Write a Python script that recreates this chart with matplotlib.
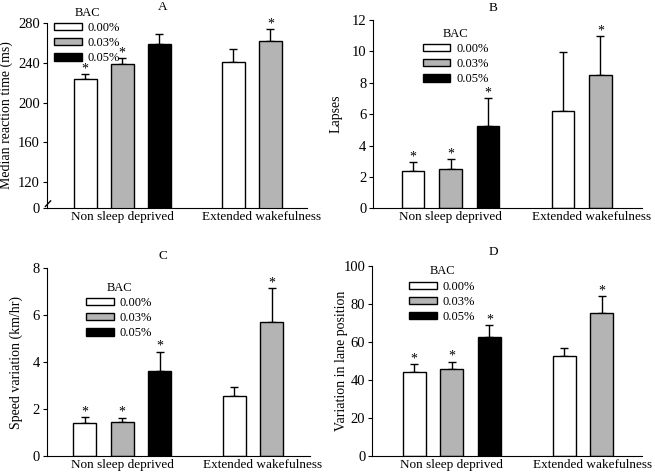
import matplotlib
matplotlib.use("Agg")
import matplotlib.pyplot as plt
from matplotlib.patches import Patch

plt.rcParams['font.family'] = ['Liberation Serif', 'DejaVu Serif']

groups = ["Non sleep deprived", "Extended wakefulness"]
bac_levels = ["0.00%", "0.03%", "0.05%"]
bac_colors = ["white", "#b4b4b4", "black"]

# bar order: NSD 0.00, NSD 0.03, NSD 0.05, EW 0.00, EW 0.03
bar_group = [0, 0, 0, 1, 1]
bar_bac = [0, 1, 2, 0, 1]

rt_mean = [223.4, 238.2, 258.3, 240.2, 261.6]
rt_se = [5.1, 6.0, 10.7, 13.4, 12.4]
rt_star = [True, True, False, False, True]

lapse_mean = [2.37, 2.50, 5.27, 6.20, 8.52]
lapse_se = [0.58, 0.64, 1.73, 3.78, 2.46]
lapse_star = [True, True, True, False, True]

speed_mean = [1.40, 1.44, 3.64, 2.54, 5.72]
speed_se = [0.26, 0.20, 0.81, 0.42, 1.45]
speed_star = [True, True, True, False, True]

lane_mean = [44.0, 45.6, 62.3, 52.6, 75.4]
lane_se = [4.2, 4.0, 6.3, 4.4, 8.8]
lane_star = [True, True, True, False, True]

W, H = 655, 472
fig = plt.figure(figsize=(W / 100, H / 100), dpi=100)


def px_axes(left, top, right, bottom):
    return fig.add_axes([left / W, 1 - bottom / H, (right - left) / W, (bottom - top) / H])


panels = [
    dict(box=(46.7, 22.7, 306.7, 208.3), xlim=(-1.04, 5.98), ylim=(94, 280),
         yticks=[94, 120, 160, 200, 240, 280], yticklabels=["0", "120", "160", "200", "240", "280"],
         ylabel="Median reaction time (ms)", title="A", title_xy=(0.447, 1.085), label_x=-0.13,
         leg=(54, 7), mean=rt_mean, se=rt_se, star=rt_star),
    dict(box=(373.3, 20, 641.7, 208.3), xlim=(-1.06, 6.1), ylim=(0, 12),
         yticks=[0, 2, 4, 6, 8, 10, 12], yticklabels=None,
         ylabel="Lapses", title="B", title_xy=(0.446, 1.065), label_x=-0.113,
         leg=(422.7, 28), mean=lapse_mean, se=lapse_se, star=lapse_star),
    dict(box=(46.7, 268.3, 310, 456), xlim=(-1.02, 6.02), ylim=(0, 8),
         yticks=[0, 2, 4, 6, 8], yticklabels=None,
         ylabel="Speed variation (km/hr)", title="C", title_xy=(0.44, 1.068), label_x=-0.089,
         leg=(86, 282), mean=speed_mean, se=speed_se, star=speed_star),
    dict(box=(372.3, 265.7, 641.7, 456), xlim=(-1.12, 6.06), ylim=(0, 100),
         yticks=[0, 20, 40, 60, 80, 100], yticklabels=None,
         ylabel="Variation in lane position", title="D", title_xy=(0.45, 1.072), label_x=-0.09,
         leg=(409, 265.5), mean=lane_mean, se=lane_se, star=lane_star),
]

xpos = [0, 1, 2, 4, 5]

for p in panels:
    ax = px_axes(*p["box"])
    colors = [bac_colors[b] for b in bar_bac]
    ax.bar(xpos, p["mean"], width=0.61, color=colors, edgecolor="black", linewidth=1.0, zorder=2)
    ax.errorbar(xpos, p["mean"], yerr=[[0] * 5, p["se"]], fmt="none", ecolor="black",
                elinewidth=1.0, capsize=3, capthick=1.0, zorder=1)
    for x, m, s, st in zip(xpos, p["mean"], p["se"], p["star"]):
        if st:
            ax.annotate("*", (x, m + s), xytext=(0, -1), textcoords="offset points",
                        ha="center", va="bottom", fontsize=10)
    ax.set_xlim(*p["xlim"])
    ax.set_ylim(*p["ylim"])
    ax.set_yticks(p["yticks"])
    if p["yticklabels"]:
        ax.set_yticklabels(p["yticklabels"])
    ax.set_xticks([1, 4.75])
    ax.set_xticklabels(groups)
    ax.tick_params(axis="x", length=0, pad=2, labelsize=9.5)
    ax.tick_params(axis="y", length=3, width=0.8, pad=2, labelsize=10.5)
    ax.spines["top"].set_visible(False)
    ax.spines["right"].set_visible(False)
    ax.set_ylabel(p["ylabel"], fontsize=10)
    ax.yaxis.set_label_coords(p["label_x"], 0.5)
    ax.text(p["title_xy"][0], p["title_xy"][1], p["title"], transform=ax.transAxes,
            ha="center", va="center", fontsize=9.5)
    handles = [Patch(facecolor=c, edgecolor="black", linewidth=1.0) for c in bac_colors]
    ax.legend(handles, bac_levels, title="BAC", loc="upper left",
              bbox_to_anchor=(p["leg"][0] / W, 1 - p["leg"][1] / H), bbox_transform=fig.transFigure,
              frameon=False, fontsize=9, title_fontsize=9, handlelength=2.2, handleheight=0.5,
              handletextpad=0.5, labelspacing=0.25, borderpad=0, borderaxespad=0)
    if p["title"] == "A":
        ax.plot([-0.005, 0.015], [0.01, 0.04], transform=ax.transAxes, color="black",
                linewidth=1.0, clip_on=False)

fig.savefig("out.png", dpi=100)
